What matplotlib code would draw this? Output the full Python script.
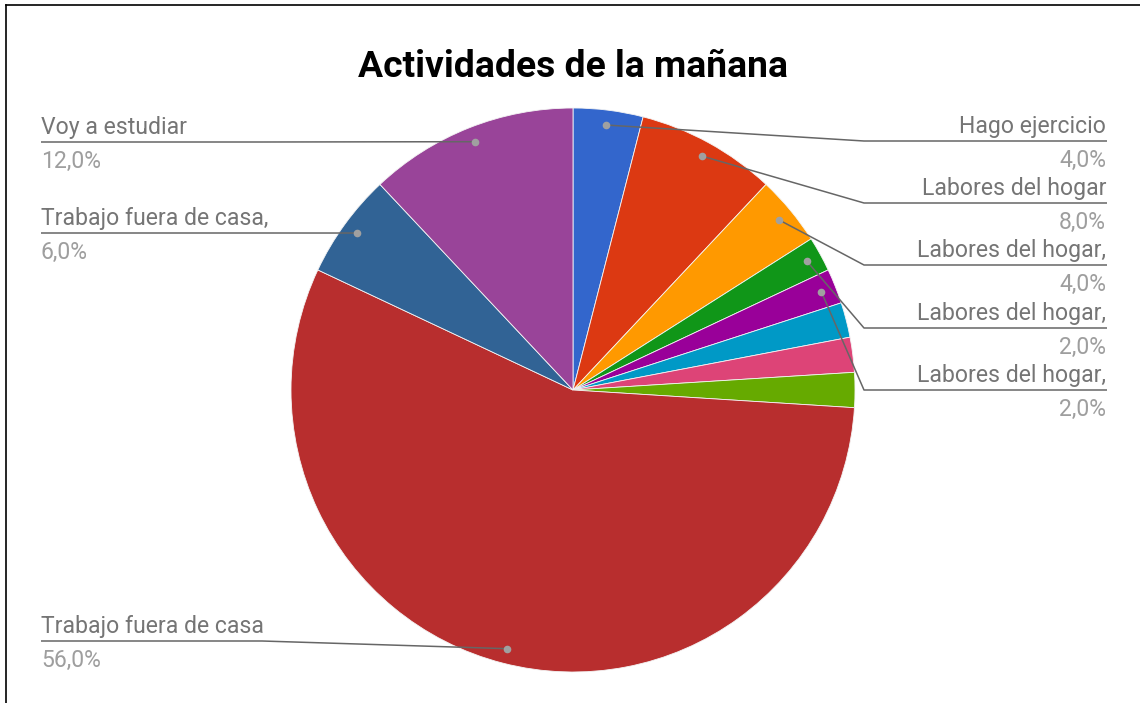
import matplotlib
matplotlib.use("Agg")
import matplotlib.pyplot as plt
import numpy as np

# ---------------- data ----------------
title = "Actividades de la mañana"
categories = [
    "Hago ejercicio",
    "Labores del hogar",
    "Labores del hogar,",
    "Labores del hogar,",
    "Labores del hogar,",
    "Labores del hogar,",
    "Labores del hogar,",
    "Labores del hogar,",
    "Trabajo fuera de casa",
    "Trabajo fuera de casa,",
    "Voy a estudiar",
]
values = [4, 8, 4, 2, 2, 2, 2, 2, 56, 6, 12]
colors = ["#3366cc", "#dc3912", "#ff9900", "#109618", "#990099", "#0099c6",
          "#dd4477", "#66aa00", "#b82e2e", "#316395", "#994499"]
show_label = [True, True, True, True, True, False, False, False, True, True, True]

# ---------------- layout (pixel space) ----------------
W, H = 1140, 703
CX, CY, R = 573, 390, 282
# underline y (pixels from top) for each labelled slice
label_rows = {0: 141, 1: 203, 2: 265, 3: 328, 4: 390, 10: 142, 9: 233, 8: 641}
RIGHT_ELBOW, RIGHT_END = 864, 1107
LEFT_START, LEFT_ELBOW = 41, 262

NAME_COLOR = "#757575"
PCT_COLOR = "#9e9e9e"
LINE_COLOR = "#666666"
FONT = "Roboto"
FS = 16.6


def Y(py):
    return H - py


fig = plt.figure(figsize=(W / 100, H / 100), dpi=100)
ax = fig.add_axes([0, 0, 1, 1])
wedges, _ = ax.pie(values, colors=colors, startangle=90, counterclock=False,
                   center=(CX, Y(CY)), radius=R, frame=True,
                   wedgeprops=dict(linewidth=0.6, edgecolor="#f4f4f4"))
ax.set_xlim(0, W)
ax.set_ylim(0, H)
ax.set_aspect("equal")
ax.axis("off")

total = sum(values)
for i, w in enumerate(wedges):
    if not show_label[i]:
        continue
    mid = np.deg2rad((w.theta1 + w.theta2) / 2)
    dx = CX + 0.947 * R * np.cos(mid)
    dy = Y(CY) + 0.947 * R * np.sin(mid)
    uy = Y(label_rows[i])
    pct = f"{values[i] / total * 100:.1f}%".replace(".", ",")
    if np.cos(mid) >= 0:
        xs = [dx, RIGHT_ELBOW, RIGHT_END]
        tx, ha = RIGHT_END - 1, "right"
    else:
        xs = [dx, LEFT_ELBOW if dx > LEFT_ELBOW + 20 else dx, LEFT_START]
        tx, ha = LEFT_START, "left"
    ax.plot(xs, [dy, uy, uy], color=LINE_COLOR, lw=1.1, solid_capstyle="butt",
            zorder=5)
    ax.plot([dx], [dy], "o", ms=5.5, color="#a0a0a0", mec="none", zorder=6)
    ax.text(tx, uy + 8, categories[i], ha=ha, va="baseline", fontsize=FS,
            family=FONT, color=NAME_COLOR)
    ax.text(tx, uy - 26, pct, ha=ha, va="baseline", fontsize=FS,
            family=FONT, color=PCT_COLOR)

ax.text(CX, Y(77), title, ha="center", va="baseline", fontsize=26.8,
        fontweight="bold", family=FONT, color="black")

# thin frame at top and left like the reference screenshot
fig.add_artist(plt.Line2D([6 / W, 1], [1 - 4.5 / H, 1 - 4.5 / H],
                          transform=fig.transFigure, color="black", lw=1.2))
fig.add_artist(plt.Line2D([6 / W, 6 / W], [0, 1 - 4.5 / H],
                          transform=fig.transFigure, color="black", lw=1.2))

fig.savefig("out.png", dpi=100, facecolor="white")
